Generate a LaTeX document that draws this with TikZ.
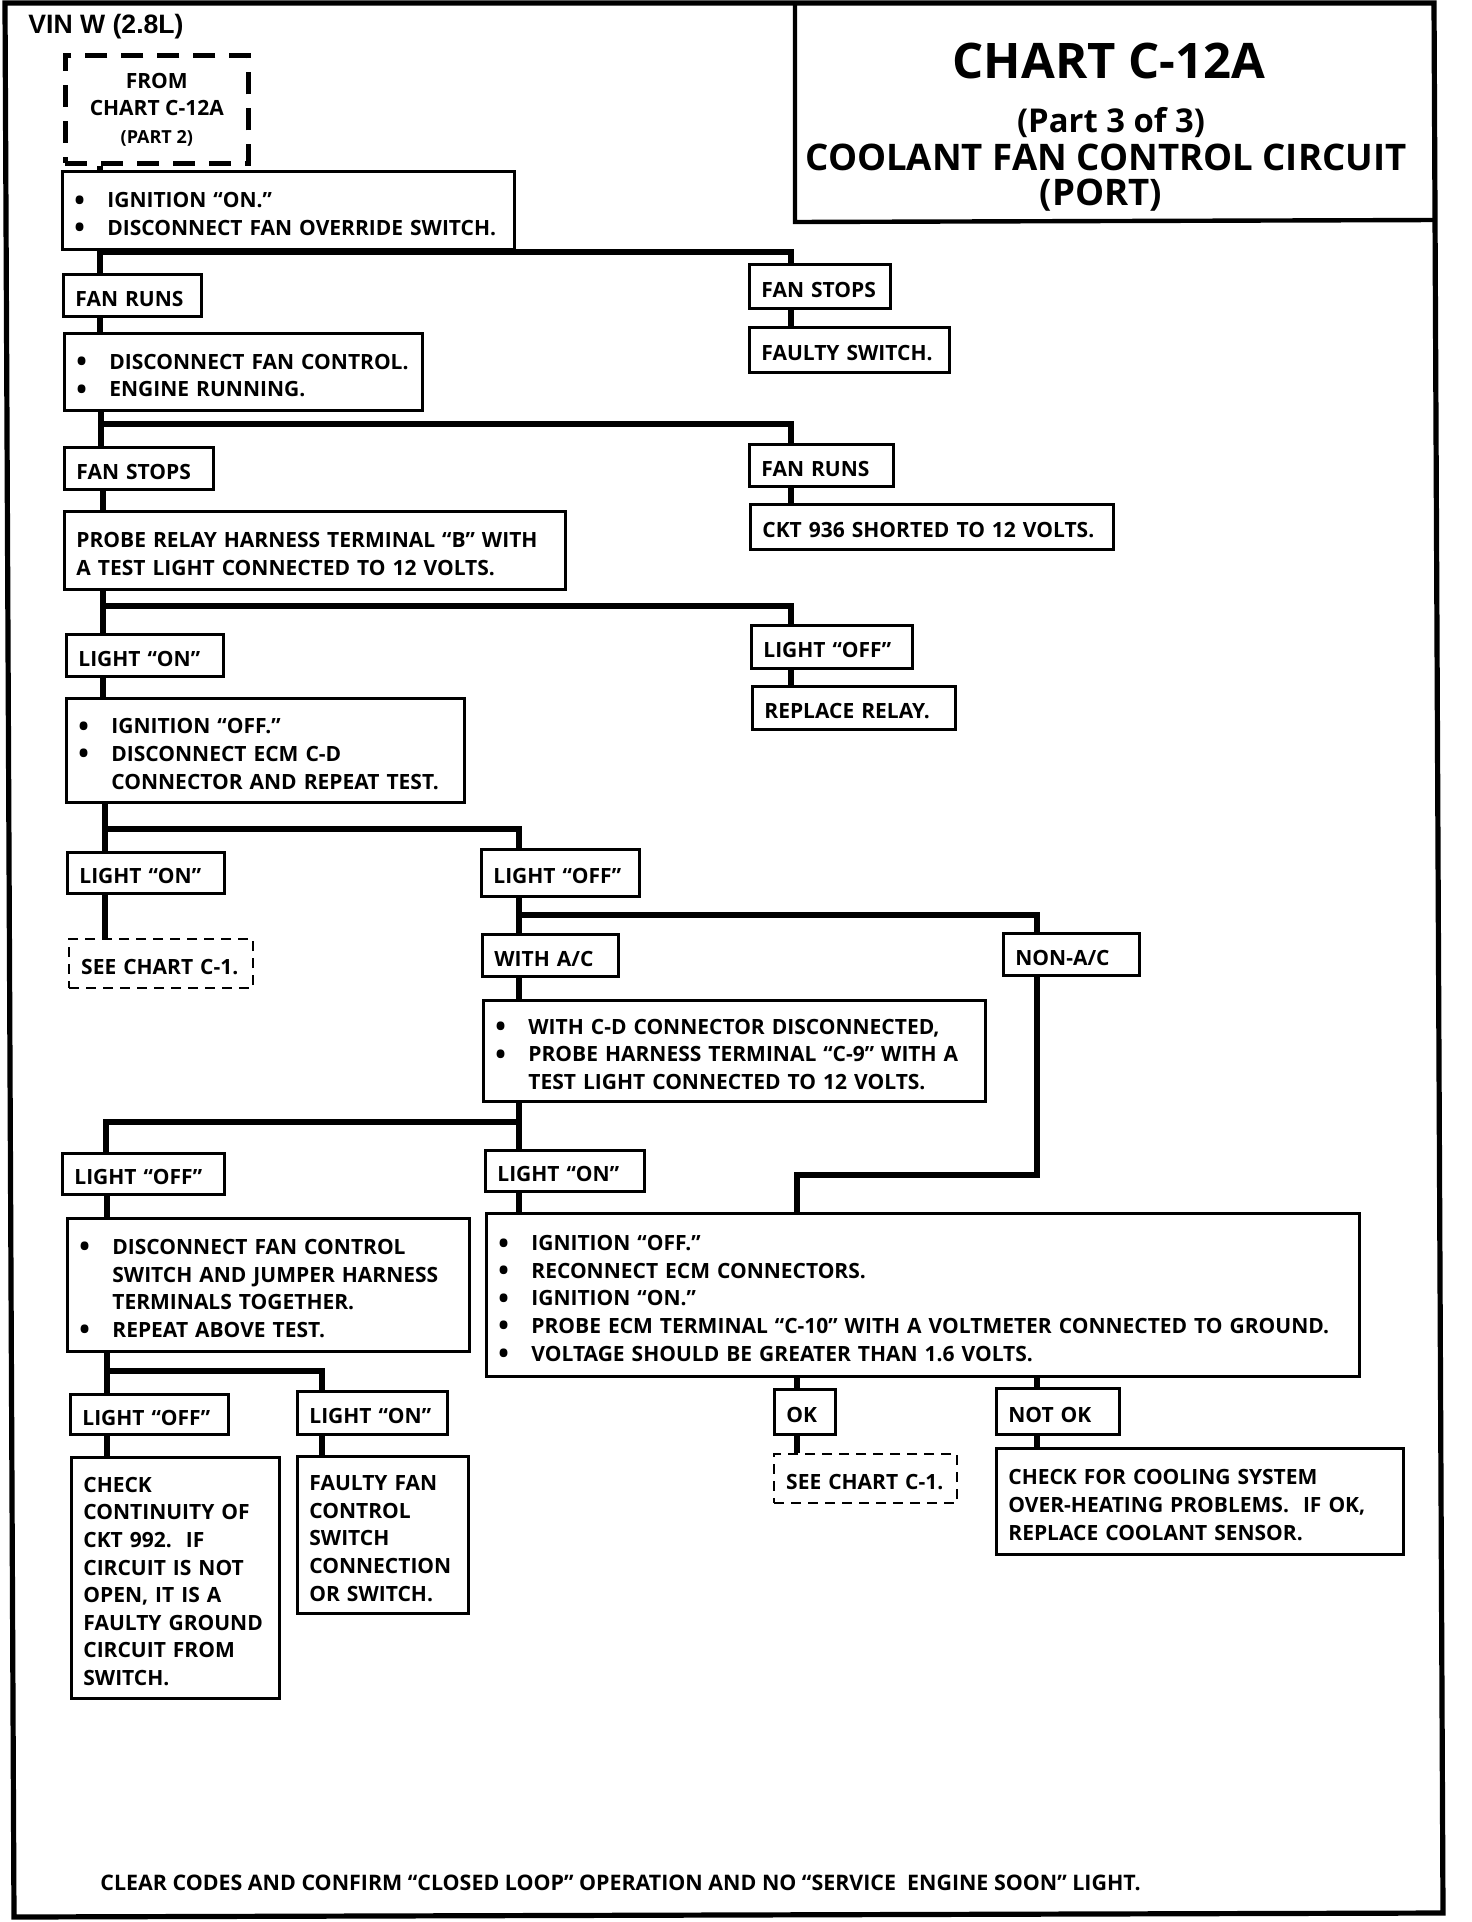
\documentclass[tikz,border=0pt]{standalone}
\usepackage{fontspec}
\setmainfont{Open Sans}
\newfontfamily\vinfont{Liberation Sans}
\newcommand\bul{\makebox[16.5pt][l]{\raisebox{-1.2pt}{\fontsize{14}{12}\selectfont •}}}
\newcommand\ind{\hspace*{16.5pt}}
\newlength\vcs \setlength\vcs{1.75pt}
\newcommand\wsp{\spaceskip=.3333em\relax\xspaceskip=.5em\relax}
% vertical placement: caps block centred, shifted down by \vcs
\newcommand\vc[1]{\setbox0=\hbox{#1}%
  \dimen0=\dp0 \advance\dimen0 by -4.14pt
  \dimen2=7.5pt \advance\dimen2 by 2\vcs
  \raisebox{0pt}[\dimen2][\dimen0]{\box0}}
\newcommand\B[1]{\makebox[\tw pt][l]{\wsp\vc{\begin{tabular}[t]{@{}l@{}}#1\end{tabular}}}}
\newcommand\C[1]{\vcs=-0.6pt\relax\vc{\begin{tabular}[t]{@{}c@{}}#1\end{tabular}}}
\begin{document}
\begin{tikzpicture}[x=0.5pt,y=-0.5pt,
  bsize/.code 2 args={\pgfmathsetmacro\bw{#1*0.5}\pgfmathsetmacro\bh{#2*0.5}\pgfmathsetmacro\tw{#1*0.5-12}%
    \edef\next{\noexpand\pgfkeysalso{/tikz/minimum width=\bw pt,/tikz/minimum height=\bh pt}}\next},
  box/.style={draw, line width=1.4pt, anchor=north west, inner xsep=6pt, inner ysep=0pt,
    font=\bfseries\fontsize{10.5}{13.8}\selectfont},
  thindash/.style={box, dash pattern=on 5pt off 3.5pt, line width=1.2pt},
  fromdash/.style={box, dash pattern=on 11pt off 7pt, line width=2.3pt},
  conn/.style={line width=3.2pt, line join=miter},
  frame/.style={line width=2.6pt, line join=miter},
  ttl/.style={anchor=base, inner sep=0pt, font=\bfseries}
]
\useasboundingbox (0,0) rectangle (1472,1922);
% frame and title box
\draw[frame] (5,3) -- (1434,3) -- (1443,1913) -- (14,1917) -- cycle;
\draw[line width=2.2pt] (795,3) -- (795,222) -- (1436,220);
\node[ttl, font=\bfseries\fontsize{24.5}{27}\selectfont] (t1) at (1109,78) {CHART C-12A};
\node[ttl, font=\bfseries\fontsize{16.4}{20}\selectfont] (t2) at (1111,132) {(Part 3 of 3)};
\node[ttl, font=\bfseries\fontsize{18.3}{21}\selectfont] (t3) at (1106,170) {COOLANT FAN CONTROL CIRCUIT};
\node[ttl, font=\bfseries\fontsize{18.3}{21}\selectfont] (t4) at (1101,205) {(PORT)};
\node[ttl, anchor=base west, font=\vinfont\bfseries\fontsize{13.3}{15}\selectfont] (vin) at (28,33) {VIN W (2.8L)};
\node[ttl, anchor=base west, font=\bfseries\fontsize{10.7}{13}\selectfont] (foot) at (100,1890)
  {CLEAR CODES AND CONFIRM “CLOSED LOOP” OPERATION AND NO “SERVICE\ \ ENGINE SOON” LIGHT.};

% boxes
\node[fromdash, bsize={183}{108}] (from) at (63,53) {\C{FROM\\CHART C-12A\\{\fontsize{9}{13.8}\selectfont (PART 2)}}};
\node[box, bsize={452}{78}] (b2) at (61,170) {\B{\bul IGNITION “ON.”\\\bul DISCONNECT FAN OVERRIDE SWITCH.}};
\node[box, bsize={138}{42}] (fr1) at (62,273) {\B{FAN RUNS}};
\node[box, bsize={141}{44}] (fs1) at (748,263) {\B{FAN STOPS}};
\node[box, bsize={200}{45}] (fsw) at (748,326) {\B{FAULTY SWITCH.}};
\node[box, bsize={358}{77}] (b3) at (63,332) {\B{\bul DISCONNECT FAN CONTROL.\\\bul ENGINE RUNNING.}};
\node[box, bsize={149}{42}] (fs2) at (63,446) {\B{FAN STOPS}};
\node[box, bsize={144}{42}] (fr2) at (748,443) {\B{FAN RUNS}};
\node[box, bsize={363}{45}] (ckt) at (749,503) {\B{CKT 936 SHORTED TO 12 VOLTS.}};
\node[box, bsize={501}{78}] (probe) at (63,510) {\B{PROBE RELAY HARNESS TERMINAL “B” WITH\\A TEST LIGHT CONNECTED TO 12 VOLTS.}};
\node[box, bsize={157}{42}] (lon1) at (65,633) {\B{LIGHT “ON”}};
\node[box, bsize={161}{43}] (loff1) at (750,624) {\B{LIGHT “OFF”}};
\node[box, bsize={203}{43}] (rr) at (751,685) {\B{REPLACE RELAY.}};
\node[box, bsize={398}{104}] (ign2) at (65,697) {\B{\bul IGNITION “OFF.”\\\bul DISCONNECT ECM C-D\\\ind CONNECTOR AND REPEAT TEST.}};
\node[box, bsize={157}{41}] (lon2) at (66,851) {\B{LIGHT “ON”}};
\node[box, bsize={158}{47}] (loff2) at (480,848) {\B{LIGHT “OFF”}};
\node[thindash, bsize={184}{49}] (see1) at (68,938) {\B{SEE CHART C-1.}};
\node[box, bsize={136}{42}] (wac) at (481,933) {\B{WITH A/C}};
\node[box, bsize={136}{42}] (nac) at (1002,932) {\B{NON-A/C}};
\node[box, bsize={502}{101}] (wcd) at (482,999) {\B{\bul WITH C-D CONNECTOR DISCONNECTED,\\\bul PROBE HARNESS TERMINAL “C-9” WITH A\\\ind TEST LIGHT CONNECTED TO 12 VOLTS.}};
\node[box, bsize={162}{41}] (loff3) at (61,1152) {\B{LIGHT “OFF”}};
\node[box, bsize={159}{41}] (lon3) at (484,1149) {\B{LIGHT “ON”}};
\node[box, bsize={402}{133}] (dfc) at (66,1217) {\B{\bul DISCONNECT FAN CONTROL\\\ind SWITCH AND JUMPER HARNESS\\\ind TERMINALS TOGETHER.\\\bul REPEAT ABOVE TEST.}};
\node[box, bsize={873}{163}] (big) at (485,1212) {\B{\bul IGNITION “OFF.”\\\bul RECONNECT ECM CONNECTORS.\\\bul IGNITION “ON.”\\\bul PROBE ECM TERMINAL “C-10” WITH A VOLTMETER CONNECTED TO GROUND.\\\bul VOLTAGE SHOULD BE GREATER THAN 1.6 VOLTS.}};
\node[box, bsize={158}{40}] (loff4) at (69,1393) {\B{LIGHT “OFF”}};
\node[box, bsize={150}{43}] (lon4) at (296,1390) {\B{LIGHT “ON”}};
\node[box, bsize={61}{45}] (ok) at (773,1388) {\B{OK}};
\node[box, bsize={123}{46}] (nok) at (995,1387) {\B{NOT OK}};
\node[box, bsize={208}{241}] (chk) at (70,1456) {\B{CHECK\\CONTINUITY OF\\CKT 992.\ \ IF\\CIRCUIT IS NOT\\OPEN, IT IS A\\FAULTY GROUND\\CIRCUIT FROM\\SWITCH.}};
\node[box, bsize={171}{157}] (ffc) at (296,1455) {\B{FAULTY FAN\\CONTROL\\SWITCH\\CONNECTION\\OR SWITCH.}};
\node[thindash, bsize={183}{49}] (see2) at (773,1453) {\B{SEE CHART C-1.}};
\node[box, bsize={407}{106}] (cfc) at (995,1447) {\B{CHECK FOR COOLING SYSTEM\\OVER-HEATING PROBLEMS.\ \ IF OK,\\REPLACE COOLANT SENSOR.}};

% connector guide coordinates
\coordinate (xa) at (100,0);
\coordinate (xb) at (101,0);
\coordinate (xc) at (103,0);
\coordinate (xd) at (105,0);
\coordinate (xe) at (106,0);
\coordinate (xf) at (107,0);
\coordinate (xg) at (322,0);
\coordinate (xm) at (519,0);
\coordinate (xr) at (791,0);
\coordinate (xo) at (797,0);
\coordinate (xn) at (1037,0);
\coordinate (h1) at (0,252);
\coordinate (h2) at (0,424);
\coordinate (h3) at (0,606);
\coordinate (h4) at (0,829);
\coordinate (h5) at (0,915);
\coordinate (h6) at (0,1122);
\coordinate (h7) at (0,1175);
\coordinate (h8) at (0,1371);

% connectors
\draw[conn] (from.south -| xa) -- (b2.north -| xa);
\draw[conn] (b2.south -| xa) -- (fr1.north -| xa);
\draw[conn] (xa |- h1) -| (fs1.north -| xr);
\draw[conn] (fs1.south -| xr) -- (fsw.north -| xr);
\draw[conn] (fr1.south -| xa) -- (b3.north -| xa);
\draw[conn] (b3.south -| xb) -- (fs2.north -| xb);
\draw[conn] (xb |- h2) -| (fr2.north -| xr);
\draw[conn] (fr2.south -| xr) -- (ckt.north -| xr);
\draw[conn] (fs2.south -| xc) -- (probe.north -| xc);
\draw[conn] (probe.south -| xc) -- (lon1.north -| xc);
\draw[conn] (xc |- h3) -| (loff1.north -| xr);
\draw[conn] (loff1.south -| xr) -- (rr.north -| xr);
\draw[conn] (lon1.south -| xc) -- (ign2.north -| xc);
\draw[conn] (ign2.south -| xd) -- (lon2.north -| xd);
\draw[conn] (xd |- h4) -| (loff2.north -| xm);
\draw[conn] (lon2.south -| xd) -- (see1.north -| xd);
\draw[conn] (loff2.south -| xm) -- (wac.north -| xm);
\draw[conn] (xm |- h5) -| (nac.north -| xn);
\draw[conn] (wac.south -| xm) -- (wcd.north -| xm);
\draw[conn] (wcd.south -| xm) -- (lon3.north -| xm);
\draw[conn] (xm |- h6) -| (loff3.north -| xe);
\draw[conn] (nac.south -| xn) -- (xn |- h7) -- (xo |- h7) -- (big.north -| xo);
\draw[conn] (lon3.south -| xm) -- (big.north -| xm);
\draw[conn] (loff3.south -| xf) -- (dfc.north -| xf);
\draw[conn] (dfc.south -| xf) -- (loff4.north -| xf);
\draw[conn] (xf |- h8) -| (lon4.north -| xg);
\draw[conn] (loff4.south -| xf) -- (chk.north -| xf);
\draw[conn] (lon4.south -| xg) -- (ffc.north -| xg);
\draw[conn] (big.south -| xo) -- (ok.north -| xo);
\draw[conn] (big.south -| xn) -- (nok.north -| xn);
\draw[conn] (ok.south -| xo) -- (see2.north -| xo);
\draw[conn] (nok.south -| xn) -- (cfc.north -| xn);
\end{tikzpicture}
\end{document}
